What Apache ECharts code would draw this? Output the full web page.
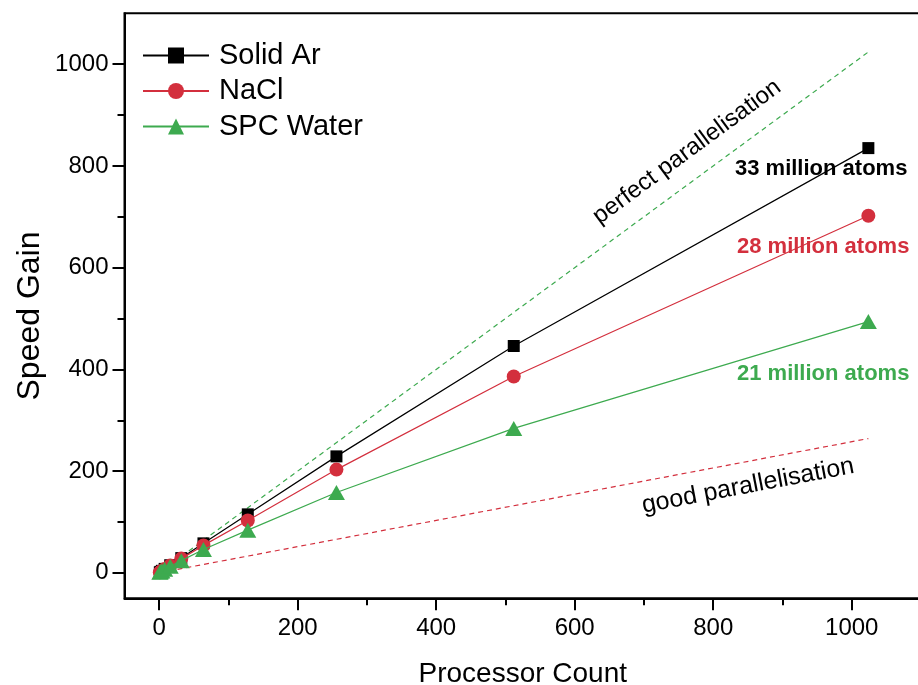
<!DOCTYPE html>
<html>
<head>
<meta charset="utf-8">
<script src="https://cdn.jsdelivr.net/npm/echarts@6/dist/echarts.min.js"></script>
<style>
html,body{margin:0;padding:0;background:#fff;}
#main{width:918px;height:685px;}
</style>
</head>
<body>
<div id="main"></div>
<script>
// ---- data ----
var processors = [1, 2, 4, 8, 16, 32, 64, 128, 256, 512, 1024];
var solidAr   = [1, 2, 4, 7.8, 15, 29, 58, 115, 229, 446, 835];
var nacl      = [1, 2, 3.9, 7.6, 14.5, 28, 54, 103, 203, 386, 702];
var spcWater  = [1, 2, 3.8, 7, 13, 24, 46, 84, 158, 284, 494];
var perfectX  = [1, 1024];
var perfectY  = [1, 1024];
var goodX     = [1, 1024];
var goodY     = [0.26, 264];
var majorTicks = [0, 200, 400, 600, 800, 1000];
var minorTicks = [100, 300, 500, 700, 900];
var seriesNames = ['Solid Ar', 'NaCl', 'SPC Water'];
var atomLabels = ['33 million atoms', '28 million atoms', '21 million atoms'];
var lineLabels = ['perfect parallelisation', 'good parallelisation'];
var xTitle = 'Processor Count';
var yTitle = 'Speed Gain';

var FONT = "'Liberation Sans', Arial, sans-serif";
var BLACK = '#000000', RED = '#d32f3d', GREEN = '#3daa4f';

function zip(xs, ys) { return xs.map(function (x, i) { return [x, ys[i]]; }); }

var chart = echarts.init(document.getElementById('main'), null, {renderer: 'canvas'});

function majorAxis(extra, margin) {
  return Object.assign({
    type: 'value', min: -50, max: 1100,
    axisLine: {show: true, onZero: false, lineStyle: {color: '#000', width: 2}},
    axisTick: {show: true, inside: false, length: 12, customValues: majorTicks, lineStyle: {color: '#000', width: 2}},
    axisLabel: {show: true, customValues: majorTicks, fontSize: 24, color: '#000', fontFamily: FONT, margin: margin,
      formatter: function (v) { return String(v); }},
    splitLine: {show: false}
  }, extra);
}
function minorAxis(extra) {
  return Object.assign({
    type: 'value', min: -50, max: 1100,
    axisLine: {show: false, onZero: false},
    axisTick: {show: true, inside: false, length: 7, customValues: minorTicks, lineStyle: {color: '#000', width: 2}},
    axisLabel: {show: false},
    splitLine: {show: false}
  }, extra);
}

var option = {
  animation: false,
  backgroundColor: '#ffffff',
  textStyle: {fontFamily: FONT},
  grid: {left: 124.5, top: 13.3, right: -3, bottom: 86.7, show: true, borderColor: '#000', borderWidth: 2,
    containLabel: false, outerBoundsMode: 'none'},
  legend: {
    left: 137, top: 36, orient: 'vertical',
    itemWidth: 66, itemHeight: 20, itemGap: 6.5,
    textStyle: {fontSize: 29, lineHeight: 29, color: '#000', fontFamily: FONT, padding: [0, 0, 0, 5]},
    data: seriesNames
  },
  xAxis: [
    majorAxis({position: 'bottom', name: xTitle, nameLocation: 'middle', nameGap: 62,
      nameTextStyle: {fontSize: 28, color: '#000', fontFamily: FONT}}, 18),
    minorAxis({position: 'bottom'})
  ],
  yAxis: [
    majorAxis({position: 'left'}, 16),
    minorAxis({position: 'left'})
  ],
  series: [
    {type: 'line', name: 'perfect', data: zip(perfectX, perfectY), symbol: 'none', silent: true,
      lineStyle: {color: GREEN, width: 1.2, type: [5, 4]}, z: 1},
    {type: 'line', name: 'good', data: zip(goodX, goodY), symbol: 'none', silent: true,
      lineStyle: {color: RED, width: 1.2, type: [5, 4]}, z: 1},
    {type: 'line', name: seriesNames[0], data: zip(processors, solidAr), symbol: 'rect', symbolSize: 12,
      itemStyle: {color: BLACK}, lineStyle: {color: BLACK, width: 1.2}, z: 2},
    {type: 'line', name: seriesNames[1], data: zip(processors, nacl), symbol: 'circle', symbolSize: 14,
      itemStyle: {color: RED}, lineStyle: {color: RED, width: 1.2}, z: 3},
    {type: 'line', name: seriesNames[2], data: zip(processors, spcWater), symbol: 'triangle', symbolSize: [17, 15],
      itemStyle: {color: GREEN}, lineStyle: {color: GREEN, width: 1.2}, z: 4}
  ]
};
chart.setOption(option);

// annotation texts
var lastX = processors[processors.length - 1];
function px(x, y) { return chart.convertToPixel({gridIndex: 0}, [x, y]); }
var pA = px(perfectX[0], perfectY[0]), pB = px(perfectX[1], perfectY[1]);
var gA = px(goodX[0], goodY[0]), gB = px(goodX[1], goodY[1]);
var angP = Math.atan2(pA[1] - pB[1], pB[0] - pA[0]);
var angG = Math.atan2(gA[1] - gB[1], gB[0] - gA[0]);
var ends = [px(lastX, solidAr[solidAr.length - 1]), px(lastX, nacl[nacl.length - 1]), px(lastX, spcWater[spcWater.length - 1])];

chart.setOption({
  graphic: [
    {type: 'text', x: 30, y: 316, rotation: Math.PI / 2, z: 10,
      style: {text: yTitle, fontSize: 32, fontFamily: FONT, fill: '#000', align: 'center', verticalAlign: 'middle'}},
    {type: 'text', x: 687, y: 152, rotation: angP, z: 10,
      style: {text: lineLabels[0], fontSize: 24, fontFamily: FONT, fill: '#000', align: 'center', verticalAlign: 'middle'}},
    {type: 'text', x: 748, y: 486, rotation: angG, z: 10,
      style: {text: lineLabels[1], fontSize: 25, fontFamily: FONT, fill: '#000', align: 'center', verticalAlign: 'middle'}},
    {type: 'text', x: 735, y: ends[0][1] + 21, z: 10,
      style: {text: atomLabels[0], fontSize: 22, fontWeight: 'bold', fontFamily: FONT, fill: BLACK, align: 'left', verticalAlign: 'middle'}},
    {type: 'text', x: 737, y: ends[1][1] + 31, z: 10,
      style: {text: atomLabels[1], fontSize: 22, fontWeight: 'bold', fontFamily: FONT, fill: RED, align: 'left', verticalAlign: 'middle'}},
    {type: 'text', x: 737, y: ends[2][1] + 52, z: 10,
      style: {text: atomLabels[2], fontSize: 22, fontWeight: 'bold', fontFamily: FONT, fill: GREEN, align: 'left', verticalAlign: 'middle'}}
  ]
});
</script>
</body>
</html>
